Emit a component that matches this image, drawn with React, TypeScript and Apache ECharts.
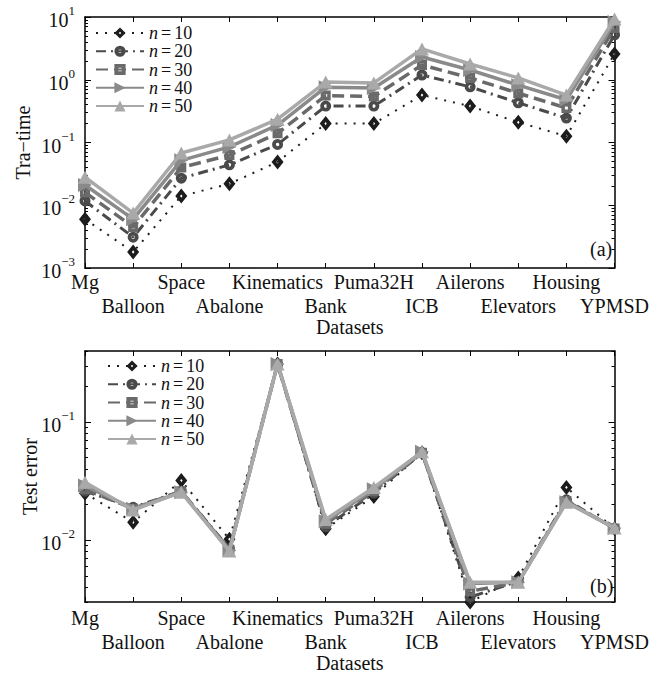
import { useEffect, useRef } from 'react';
import * as echarts from 'echarts';

const datasets = ['Mg', 'Balloon', 'Space', 'Abalone', 'Kinematics', 'Bank', 'Puma32H', 'ICB', 'Ailerons', 'Elevators', 'Housing', 'YPMSD'];
const seriesNames = ['n=10', 'n=20', 'n=30', 'n=40', 'n=50'];

// Training time (panel a)
const traN10 = [0.006, 0.0018, 0.014, 0.022, 0.049, 0.2, 0.2, 0.57, 0.38, 0.21, 0.126, 2.57];
const traN20 = [0.0117, 0.0031, 0.027, 0.044, 0.093, 0.38, 0.38, 1.19, 0.77, 0.43, 0.245, 5.2];
const traN30 = [0.016, 0.0045, 0.04, 0.063, 0.14, 0.56, 0.54, 1.72, 1.07, 0.61, 0.355, 6.7];
const traN40 = [0.021, 0.006, 0.052, 0.085, 0.19, 0.76, 0.74, 2.3, 1.43, 0.82, 0.48, 8.3];
const traN50 = [0.028, 0.0075, 0.068, 0.11, 0.235, 0.92, 0.89, 3.1, 1.78, 1.07, 0.57, 9.3];

// Test error (panel b)
const errN10 = [0.025, 0.0142, 0.032, 0.0102, 0.31, 0.0125, 0.0235, 0.055, 0.003, 0.0048, 0.028, 0.0125];
const errN20 = [0.026, 0.019, 0.026, 0.0085, 0.31, 0.013, 0.025, 0.055, 0.0033, 0.0045, 0.022, 0.0125];
const errN30 = [0.027, 0.0185, 0.026, 0.0083, 0.31, 0.0138, 0.026, 0.055, 0.0037, 0.0044, 0.0215, 0.0126];
const errN40 = [0.029, 0.0185, 0.0255, 0.0082, 0.31, 0.0145, 0.027, 0.056, 0.0043, 0.0044, 0.021, 0.0127];
const errN50 = [0.031, 0.018, 0.0255, 0.0081, 0.31, 0.015, 0.028, 0.056, 0.0044, 0.0044, 0.021, 0.0127];

const traMajorTicks = [0.001, 0.01, 0.1, 1, 10];
const errMajorTicks = [0.01, 0.1];
const traRange = [0.001, 10];
const errRange = [0.003, 0.4];

const FONT = '"Liberation Serif", "DejaVu Serif", serif';

function minorTicks(lo: number, hi: number) {
  const out: number[] = [];
  for (let e = -4; e <= 1; e++) {
    for (let m = 2; m <= 9; m++) {
      const v = m * Math.pow(10, e);
      if (v >= lo * 0.999 && v <= hi * 1.001) out.push(+v.toPrecision(3));
    }
  }
  return out;
}

const DIAMOND = 'path://M0,-10L7.5,0L0,10L-7.5,0ZM0,-2.2L-1.6,0L0,2.2L1.6,0Z';
const RING = 'path://M0,-5A5,5 0 1,1 0,5A5,5 0 1,1 0,-5ZM0,-1.6A1.6,1.6 0 1,0 0,1.6A1.6,1.6 0 1,0 0,-1.6Z';
const SQUARE = 'path://M-5,-5L5,-5L5,5L-5,5ZM-1.5,-1.5L-1.5,1.5L1.5,1.5L1.5,-1.5Z';
const RIGHT_TRI = 'path://M-6,-6L6,0L-6,6Z';

const styles = [
  { color: '#1c1c1c', type: [2, 7] as any, width: 2, symbol: DIAMOND, size: [12, 15] },
  { color: '#4a4a4a', type: [10, 5, 2, 5] as any, width: 3, symbol: RING, size: 11 },
  { color: '#6a6a6a', type: [12, 6] as any, width: 3.5, symbol: SQUARE, size: 10 },
  { color: '#8a8a8a', type: 'solid' as any, width: 3.5, symbol: RIGHT_TRI, size: [14, 14] },
  { color: '#a9a9a9', type: 'solid' as any, width: 3.5, symbol: 'triangle', size: [14, 13] },
];

function makeSeries(data: number[][], xi: number, yi: number) {
  return data.map((d, k) => ({
    name: seriesNames[k],
    type: 'line',
    xAxisIndex: xi,
    yAxisIndex: yi,
    data: d,
    symbol: styles[k].symbol,
    symbolSize: styles[k].size,
    showSymbol: true,
    clip: false,
    z: 2 + k,
    lineStyle: { color: styles[k].color, width: styles[k].width, type: styles[k].type, cap: 'butt' },
    itemStyle: { color: styles[k].color },
    emphasis: { disabled: true },
  }));
}

const axisLineStyle = { color: '#000', width: 1.5 };

function xAxes(gridIndex: number, margin: number, nameGap: number) {
  return [
    {
      type: 'category', gridIndex, data: datasets, boundaryGap: false, position: 'bottom',
      axisLine: { show: true, onZero: false, lineStyle: axisLineStyle },
      axisTick: { show: true, inside: true, length: 5, interval: 0, alignWithLabel: true, lineStyle: { color: '#000', width: 1 } },
      axisLabel: {
        interval: 0, margin, fontFamily: FONT, fontSize: 20, color: '#111', lineHeight: 24,
        formatter: (v: string, i: number) => (i % 2 ? '\n' + v : v),
      },
      splitLine: { show: false },
      name: 'Datasets', nameLocation: 'middle', nameGap, nameMoveOverlap: false,
      nameTextStyle: { fontFamily: FONT, fontSize: 20, color: '#111' },
    },
    {
      type: 'category', gridIndex, data: datasets, boundaryGap: false, position: 'top',
      axisLine: { show: true, onZero: false, lineStyle: axisLineStyle },
      axisTick: { show: true, inside: true, length: 5, interval: 0, alignWithLabel: true, lineStyle: { color: '#000', width: 1 } },
      axisLabel: { show: false },
      splitLine: { show: false },
    },
  ];
}

const labelFormatter = (v: number) => {
  const e = Math.log10(v);
  const r = Math.round(e);
  if (Math.abs(e - r) > 1e-6) return '';
  return `{b|10}{s|${r < 0 ? '\u2212' + -r : r}}`;
};

function yAxes(gridIndex: number, range: number[], major: number[], name: string, nameGap: number) {
  const minor = minorTicks(range[0], range[1]);
  const base = {
    type: 'log', logBase: 10, gridIndex, min: range[0], max: range[1],
    splitLine: { show: false },
  };
  const tickStyle = { color: '#000', width: 1 };
  return [
    {
      ...base, position: 'left',
      axisLine: { show: true, onZero: false, lineStyle: axisLineStyle },
      axisTick: { show: true, inside: true, length: 6, customValues: major, lineStyle: tickStyle },
      axisLabel: {
        customValues: major, formatter: labelFormatter, margin: 10, color: '#111',
        rich: {
          b: { fontFamily: FONT, fontSize: 20, color: '#111', lineHeight: 26, verticalAlign: 'bottom' },
          s: { fontFamily: FONT, fontSize: 13, color: '#111', lineHeight: 14, verticalAlign: 'top' },
        },
      },
      name, nameLocation: 'middle', nameGap, nameRotate: 90, nameMoveOverlap: false,
      nameTextStyle: { fontFamily: FONT, fontSize: 20, color: '#111' },
    },
    {
      ...base, position: 'left',
      axisLine: { show: false },
      axisTick: { show: true, inside: true, length: 3, customValues: minor, lineStyle: tickStyle },
      axisLabel: { show: false },
    },
    {
      ...base, position: 'right',
      axisLine: { show: true, onZero: false, lineStyle: axisLineStyle },
      axisTick: { show: true, inside: true, length: 6, customValues: major, lineStyle: tickStyle },
      axisLabel: { show: false },
    },
    {
      ...base, position: 'right',
      axisLine: { show: false },
      axisTick: { show: true, inside: true, length: 3, customValues: minor, lineStyle: tickStyle },
      axisLabel: { show: false },
    },
  ];
}

function legend(left: number, top: number, itemGap: number) {
  const tok = { fontFamily: FONT, fontSize: 18, color: '#111', lineHeight: 17 };
  return {
    left, top, orient: 'vertical', itemWidth: 48, itemHeight: 14, itemGap, padding: 0,
    data: seriesNames, selectedMode: false,
    formatter: (name: string) => `{i|n}{e|=}{r|${name.split('=')[1]}}`,
    textStyle: {
      fontFamily: FONT, fontSize: 18, color: '#111', lineHeight: 17,
      rich: {
        i: { ...tok, fontStyle: 'italic' },
        e: { ...tok, padding: [0, 3, 0, 3] },
        r: { ...tok },
      },
    },
  };
}

export default function App() {
  const ref = useRef<HTMLDivElement>(null);
  useEffect(() => {
    if (!ref.current) return;
    const chart = echarts.init(ref.current, undefined, { renderer: 'svg' });
    const option: any = {
      animation: false,
      backgroundColor: '#fff',
      grid: [
        { left: 85, right: 32, top: 17, height: 251 },
        { left: 85, right: 31, top: 351, height: 251 },
      ],
      xAxis: [...xAxes(0, 2, 49), ...xAxes(1, 4, 51)],
      yAxis: [
        ...yAxes(0, traRange, traMajorTicks, 'Tra\u2212time', 52),
        ...yAxes(1, errRange, errMajorTicks, 'Test error', 45),
      ],
      legend: [legend(95, 24, 0.25), legend(107, 357, 0.25)],
      series: [
        ...makeSeries([traN10, traN20, traN30, traN40, traN50], 0, 0),
        ...makeSeries([errN10, errN20, errN30, errN40, errN50], 2, 4),
      ],
      graphic: [
        { type: 'text', left: 590, top: 239, style: { text: '(a)', font: `20px ${FONT}`, fill: '#111' } },
        { type: 'text', left: 590, top: 576, style: { text: '(b)', font: `20px ${FONT}`, fill: '#111' } },
      ],
    };
    chart.setOption(option);
    return () => chart.dispose();
  }, []);
  return <div ref={ref} style={{ position: 'fixed', left: 0, top: 0, width: 652, height: 677, background: '#fff' }} />;
}
